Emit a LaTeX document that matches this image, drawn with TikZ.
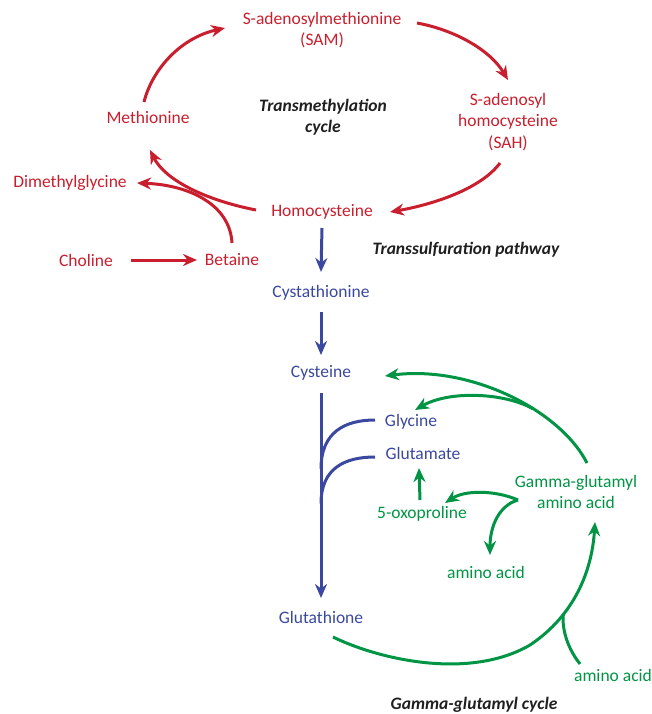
\documentclass[tikz,border=0pt]{standalone}
\usepackage{fontspec}
\setmainfont{Carlito}
\usepackage{tikz}
\usetikzlibrary{arrows.meta}
\usetikzlibrary{calc}
\definecolor{metred}{RGB}{200,30,45}
\definecolor{sulblue}{RGB}{58,72,160}
\definecolor{glugreen}{RGB}{0,148,68}
\newcommand\labfont{\fontsize{17.5}{21.5}\selectfont}

\begin{document}
\begin{tikzpicture}[x=1pt,y=-1pt,
  lab/.style={font=\labfont,align=center,inner sep=0pt},
  met/.style={lab,text=metred},
  sul/.style={lab,text=sulblue},
  glu/.style={lab,text=glugreen},
  title/.style={lab,text=black!88,font=\labfont\bfseries\itshape},
  metarr/.style={draw=metred,line width=3pt,-{Stealth[length=14pt,width=12pt,inset=4.5pt]}},
  sularr/.style={draw=sulblue,line width=3pt,-{Stealth[length=14pt,width=12pt,inset=4.5pt]}},
  sulline/.style={draw=sulblue,line width=3pt},
  gluarr/.style={draw=glugreen,line width=3pt,-{Stealth[length=14pt,width=12pt,inset=4.5pt]}},
  gluline/.style={draw=glugreen,line width=3pt}]
\useasboundingbox (0,0) rectangle (652,714);

\node[met] (sam) at (322,30) {S-adenosylmethionine\\(SAM)};
\node[met] (sah) at (508,122) {S-adenosyl\\homocysteine\\(SAH)};
\node[met] (meth) at (148,117) {Methionine};
\node[met] (homo) at (322,212) {Homocysteine};
\node[met] (dmg) at (70,183) {Dimethylglycine};
\node[met] (chol) at (86,260) {Choline};
\node[met] (bet) at (232,260) {Betaine};
\node[title] (tmc) at (323,117) {Transmethylation\\cycle};
\node[title] (tsp) at (466,250) {Transsulfuration pathway};

\node[sul] (cyst) at (321,293) {Cystathionine};
\node[sul] (cys) at (321,373) {Cysteine};
\node[sul] (glyc) at (411,422) {Glycine};
\node[sul] (glu) at (423,453) {Glutamate};
\node[sul] (glut) at (321,617) {Glutathione};

\node[glu] (gg) at (576,492) {Gamma-glutamyl\\amino acid};
\node[glu] (oxo) at (422,514) {5-oxoproline};
\node[glu] (aa1) at (486,572) {amino acid};
\node[glu] (aa2) at (613,675) {amino acid};
\node[title] (ggc) at (474,705) {Gamma-glutamyl cycle};

\draw[metarr] ($(meth)+(-4,-15)$) .. controls (152,70) and (180,38) .. ($(sam)+(-97,-2)$);
\draw[metarr] ($(sam)+(95,-7)$) .. controls (455,30) and (490,50) .. ($(sah)+(0,-42)$);
\draw[metarr] ($(sah)+(-8,41)$) .. controls (480,190) and (430,205) .. ($(homo)+(68,0)$);
\draw[metarr] ($(homo)+(-66,-2)$) .. controls (205,200) and (165,180) .. ($(meth)+(2,33)$);
\draw[metarr] ($(bet)+(0,-17)$) .. controls (230,205) and (190,185) .. ($(dmg)+(67,0)$);
\draw[metarr] ($(chol)+(45,0)$) -- ($(bet)+(-35,0)$);

\draw[sularr] ($(homo)+(0,16)$) -- ($(cyst)+(0,-21)$);
\draw[sularr] ($(cyst)+(0,19)$) -- ($(cys)+(0,-18)$);
\draw[sularr] ($(cys)+(0,20)$) -- ($(glut)+(0,-19)$) coordinate[pos=0.37] (bj1) coordinate[pos=0.54] (bj2);
\draw[sulline] ($(glyc)+(-36,-2)$) .. controls (345,420) and (321,432) .. (bj1);
\draw[sulline] ($(glu)+(-48,4)$) .. controls (345,457) and (321,468) .. (bj2);

\draw[gluarr] ($(gg)+(11,-29)$) .. controls (560,410) and (470,365) .. ($(cys)+(64,3)$) coordinate[pos=0.38] (gj1);
\draw[gluarr] (gj1) .. controls (505,393) and (450,390) .. ($(glyc)+(4,-12)$);
\draw[gluarr] ($(oxo)+(-2,-14)$) -- ($(glu)+(-4,15)$);
\draw[gluarr] ($(gg)+(-58,8)$) .. controls (495,490) and (465,490) .. ($(oxo)+(23,-11)$);
\draw[gluarr] ($(gg)+(-58,8)$) .. controls (500,505) and (490,525) .. ($(aa1)+(4,-17)$);
\draw[gluarr] ($(glut)+(12,20)$) .. controls (380,660) and (470,680) .. (530,645)
  .. controls (575,615) and (592,570) .. ($(gg)+(19,30)$) coordinate[pos=0.3] (gj2);
\draw[gluline] ($(aa2)+(-33,-11)$) .. controls (565,645) and (562,625) .. (gj2);
\end{tikzpicture}
\end{document}
